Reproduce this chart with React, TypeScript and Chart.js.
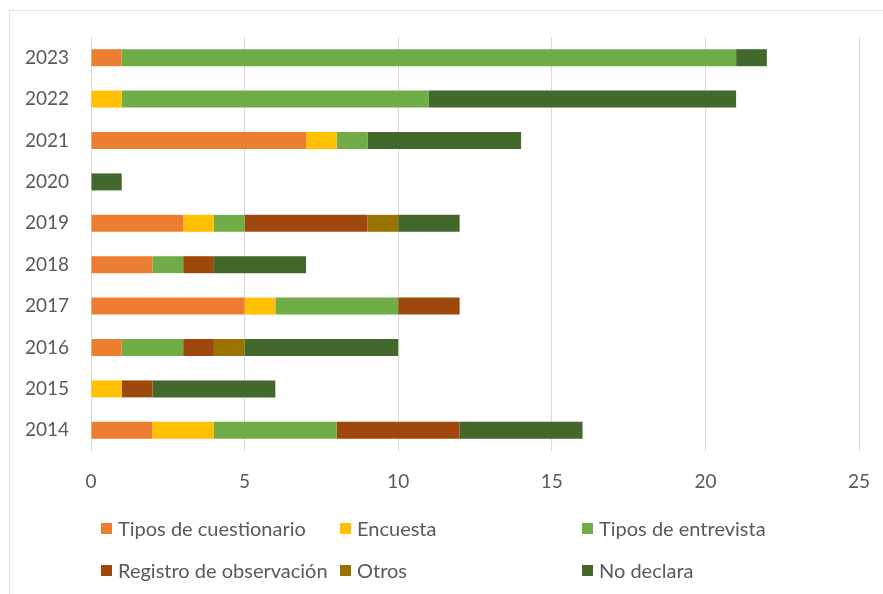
import React, { useEffect, useRef } from "react";
import { Chart, registerables } from "chart.js";

Chart.register(...registerables);

const years = ["2023", "2022", "2021", "2020", "2019", "2018", "2017", "2016", "2015", "2014"];
const cuestionario = [1, 0, 7, 0, 3, 2, 5, 1, 0, 2];
const encuesta = [0, 1, 1, 0, 1, 0, 1, 0, 1, 2];
const entrevista = [20, 10, 1, 0, 1, 1, 4, 2, 0, 4];
const registro = [0, 0, 0, 0, 4, 1, 2, 1, 1, 4];
const otros = [0, 0, 0, 0, 1, 0, 0, 1, 0, 0];
const noDeclara = [1, 10, 5, 1, 2, 3, 0, 5, 4, 4];
const xTicks = [0, 5, 10, 15, 20, 25];

const seriesNames = [
  "Tipos de cuestionario",
  "Encuesta",
  "Tipos de entrevista",
  "Registro de observación",
  "Otros",
  "No declara",
];
const seriesValues = [cuestionario, encuesta, entrevista, registro, otros, noDeclara];
const seriesColors = ["#ED7D31", "#FFC000", "#70AD47", "#9E480E", "#997300", "#43682B"];

const FONT = "Lato, 'Open Sans', sans-serif";
const TEXT = "#595959";

// legend layout: order fills rows of 3
const legendCols = [101, 340, 582];
const legendRows = [528, 570];

export default function App() {
  const ref = useRef<HTMLCanvasElement | null>(null);

  useEffect(() => {
    document.body.style.margin = "0";
    const canvas = ref.current;
    if (!canvas) return;
    const chart = new Chart(canvas, {
      type: "bar",
      data: {
        labels: years,
        datasets: seriesNames.map((name, i) => ({
          label: name,
          data: seriesValues[i],
          backgroundColor: seriesColors[i],
          borderWidth: 0,
          barPercentage: 0.82,
          categoryPercentage: 0.5,
        })),
      },
      options: {
        indexAxis: "y",
        responsive: false,
        animation: false,
        layout: { padding: { top: 37, right: 24, bottom: 0, left: 0 } },
        plugins: {
          legend: { display: false },
          tooltip: { enabled: false },
        },
        scales: {
          x: {
            stacked: true,
            min: 0,
            max: 25,
            afterBuildTicks: (scale: any) => {
              scale.ticks = xTicks.map((v) => ({ value: v }));
            },
            afterFit: (scale: any) => {
              scale.height = 143;
              scale.paddingRight = 0;
              scale.paddingLeft = 0;
            },
            grid: { color: "#D9D9D9", lineWidth: 1, drawTicks: false },
            border: { display: false },
            ticks: {
              padding: 19,
              color: TEXT,
              font: { family: FONT, size: 19 },
            },
          },
          y: {
            stacked: true,
            afterFit: (scale: any) => {
              scale.width = 91;
            },
            grid: { display: false, drawTicks: false },
            border: { display: true, color: "#D9D9D9", width: 1 },
            ticks: {
              padding: 22,
              color: TEXT,
              font: { family: FONT, size: 19 },
            },
          },
        },
      },
    });
    return () => chart.destroy();
  }, []);

  return (
    <div style={{ position: "relative", width: 883, height: 594, overflow: "hidden", background: "#fff" }}>
      <div
        style={{
          position: "absolute",
          left: 9,
          top: 10,
          width: 900,
          height: 600,
          borderTop: "1px solid #E3E3E3",
          borderLeft: "1px solid #E3E3E3",
        }}
      />
      <canvas ref={ref} width={883} height={594} style={{ position: "absolute", left: 0, top: 0, width: 883, height: 594 }} />
      {seriesNames.map((name, i) => {
        const col = i % 3;
        const row = Math.floor(i / 3);
        return (
          <div
            key={name}
            style={{
              position: "absolute",
              left: legendCols[col],
              top: legendRows[row] - 13,
              height: 26,
              display: "flex",
              alignItems: "center",
              fontFamily: FONT,
              fontSize: 20,
              color: TEXT,
              whiteSpace: "nowrap",
            }}
          >
            <span
              style={{
                display: "inline-block",
                width: 11,
                height: 11,
                background: seriesColors[i],
                marginRight: 6,
              }}
            />
            <span>{name}</span>
          </div>
        );
      })}
    </div>
  );
}
